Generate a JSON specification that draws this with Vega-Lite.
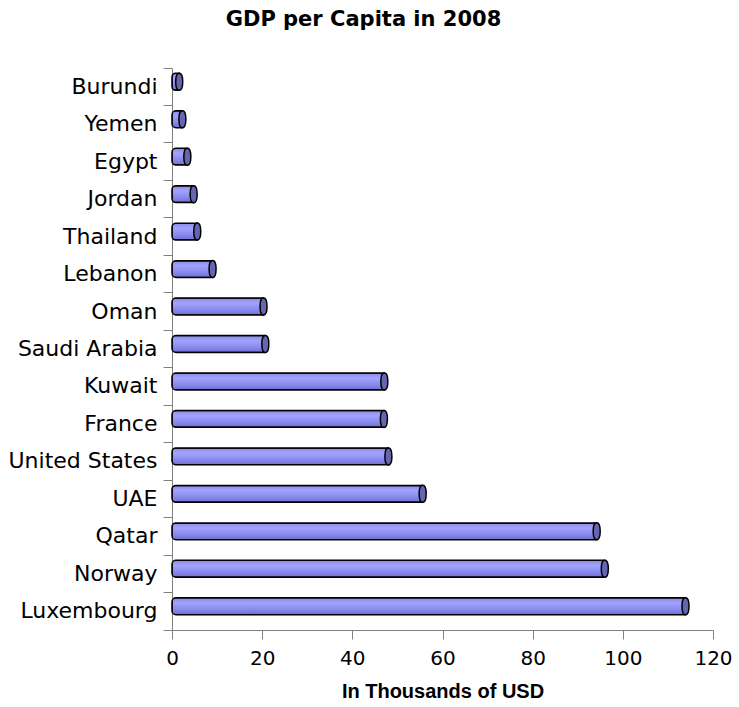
{
  "$schema": "https://vega.github.io/schema/vega-lite/v6.json",
  "width": 541,
  "height": 562,
  "autosize": {"type": "none"},
  "padding": {"left": 172, "top": 68, "right": 26, "bottom": 77},
  "background": "white",
  "title": {
    "text": "GDP per Capita in 2008",
    "font": "DejaVu Sans",
    "fontSize": 21,
    "fontWeight": "bold",
    "color": "black",
    "anchor": "middle",
    "frame": "group",
    "dx": -79,
    "baseline": "alphabetic",
    "offset": 10
  },
  "config": {
    "view": {"stroke": null},
    "axis": {"grid": false}
  },
  "data": {
    "values": [
      {"country": "Burundi", "gdp": 1.6},
      {"country": "Yemen", "gdp": 2.3},
      {"country": "Egypt", "gdp": 3.4},
      {"country": "Jordan", "gdp": 4.8},
      {"country": "Thailand", "gdp": 5.6},
      {"country": "Lebanon", "gdp": 9.0},
      {"country": "Oman", "gdp": 20.3},
      {"country": "Saudi Arabia", "gdp": 20.7},
      {"country": "Kuwait", "gdp": 47.1},
      {"country": "France", "gdp": 47.0},
      {"country": "United States", "gdp": 48.0},
      {"country": "UAE", "gdp": 55.6},
      {"country": "Qatar", "gdp": 94.2},
      {"country": "Norway", "gdp": 96.0},
      {"country": "Luxembourg", "gdp": 113.9}
    ]
  },
  "encoding": {
    "y": {
      "field": "country",
      "type": "nominal",
      "sort": null,
      "scale": {"paddingInner": 0, "paddingOuter": 0},
      "axis": {
        "title": null,
        "domainColor": "#808080",
        "tickColor": "#808080",
        "tickSize": 9,
        "bandPosition": 1,
        "tickExtra": true,
        "labelFont": "DejaVu Sans",
        "labelFontSize": 22,
        "labelColor": "black",
        "labelPadding": 6
      }
    },
    "x": {
      "field": "gdp",
      "type": "quantitative",
      "scale": {"domain": [0, 120], "nice": false},
      "axis": {
        "values": [0, 20, 40, 60, 80, 100, 120],
        "title": "In Thousands of USD",
        "titleFont": "Liberation Sans",
        "titleFontSize": 20,
        "titleFontWeight": "bold",
        "titleColor": "black",
        "titlePadding": 13,
        "domainColor": "#808080",
        "tickColor": "#808080",
        "tickSize": 9,
        "labelFlush": false,
        "labelFont": "DejaVu Sans",
        "labelFontSize": 20,
        "labelColor": "black",
        "labelPadding": 9
      }
    }
  },
  "layer": [
    {
      "mark": {
        "type": "bar",
        "height": {"band": 0.45},
        "yOffset": -5,
        "fill": {
          "gradient": "linear",
          "x1": 0, "y1": 0, "x2": 0, "y2": 1,
          "stops": [
            {"offset": 0, "color": "#8a8ae6"},
            {"offset": 0.3, "color": "#a2a2ff"},
            {"offset": 0.65, "color": "#8c8cf0"},
            {"offset": 1, "color": "#7070d2"}
          ]
        },
        "stroke": "black",
        "strokeWidth": 1.5,
        "cornerRadiusTopLeft": 4,
        "cornerRadiusBottomLeft": 4
      }
    },
    {
      "mark": {
        "type": "point",
        "shape": "M0,-1C0.55,-1 0.55,1 0,1C-0.55,1 -0.55,-1 0,-1Z",
        "size": 289,
        "filled": true,
        "fill": "#6666b0",
        "stroke": "black",
        "strokeWidth": 1.5,
        "opacity": 1,
        "yOffset": -5
      }
    }
  ]
}
